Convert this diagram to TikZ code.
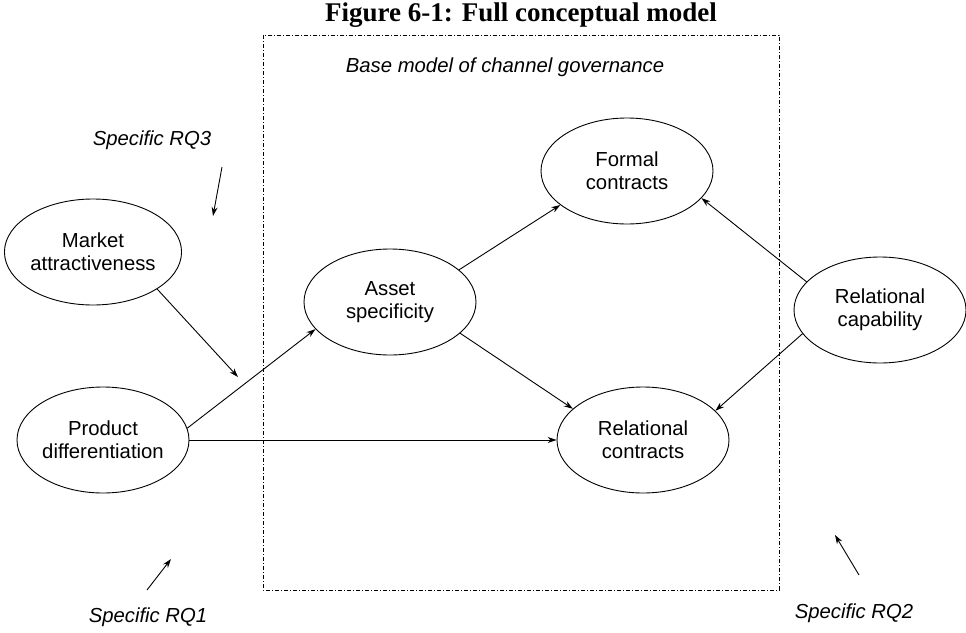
\documentclass[tikz,border=0pt]{standalone}
\usepackage{fontspec}
\setmainfont{Liberation Sans}
\newfontfamily\titlefont{Liberation Serif}
\usetikzlibrary{shapes.geometric,arrows.meta}
\begin{document}
\begin{tikzpicture}[x=1pt,y=-1pt,
  construct/.style={draw,ellipse,line width=0.9pt,minimum width=172pt,minimum height=106pt,
    inner sep=0pt,align=center,font=\fontsize{20.3}{23}\selectfont},
  rqlabel/.style={font=\fontsize{20.3}{23}\selectfont\itshape},
  path/.style={line width=0.9pt,-{Stealth[length=9pt,width=6pt]}}]
    \useasboundingbox (0,0) rectangle (966,632);
    \node (title) at (521,15) {\titlefont\bfseries\fontsize{27}{30}\selectfont Figure 6-1: Full conceptual model};
    \draw[line width=0.9pt,dash pattern=on 4pt off 2pt on 1pt off 2pt] (263,35) rectangle (779,590);
    \node[rqlabel] (base) at (505,67) {Base model of channel governance};
    \node[construct] (market)  at (93,252)  {Market\\attractiveness};
    \node[construct] (product) at (103,440) {Product\\differentiation};
    \node[construct] (asset)   at (390,302) {Asset\\specificity};
    \node[construct] (formal)  at (627,171) {Formal\\contracts};
    \node[construct] (relcon)  at (643,440) {Relational\\contracts};
    \node[construct] (relcap)  at (880,310) {Relational\\capability};
    \node[rqlabel] (rqthree) at (152,140) {Specific RQ3};
    \node[rqlabel] (rqone)   at (148,617) {Specific RQ1};
    \node[rqlabel] (rqtwo)   at (854,613) {Specific RQ2};
    \coordinate (moderate) at (238,377);
    \coordinate (rqthreea) at (222,167);
    \coordinate (rqthreeb) at (213,216);
    \coordinate (rqonea)   at (147,590);
    \coordinate (rqoneb)   at (171,559);
    \coordinate (rqtwoa)   at (859,575);
    \coordinate (rqtwob)   at (835,535);
    \draw[path] (market.-30) -- (moderate);
    \draw[path] (product.8) -- (asset.200);
    \draw[path] (product.east) -- (relcon.west);
    \draw[path] (asset.25) -- (formal.207);
    \draw[path] (asset.-24) -- (relcon.156);
    \draw[path] (relcap.159) -- (formal.-20);
    \draw[path] (relcap.197) -- (relcon.22);
    \draw[path] (rqthreea) -- (rqthreeb);
    \draw[path] (rqonea) -- (rqoneb);
    \draw[path] (rqtwoa) -- (rqtwob);
\end{tikzpicture}
\end{document}
